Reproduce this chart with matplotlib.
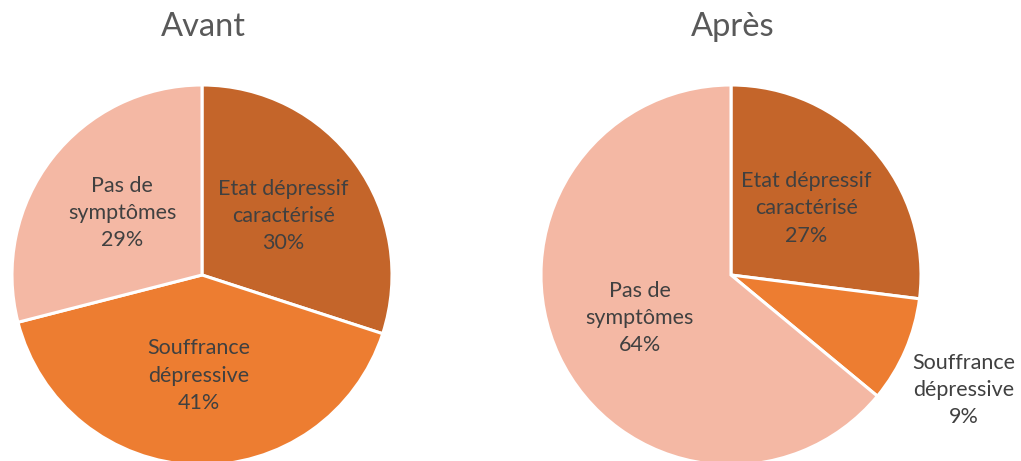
import matplotlib.pyplot as plt

plt.rcParams['font.family'] = ['Lato', 'DejaVu Sans']

categories = ['Etat dépressif\ncaractérisé', 'Souffrance\ndépressive', 'Pas de\nsymptômes']
avant = [30, 41, 29]
apres = [27, 9, 64]
titles = ['Avant', 'Après']
colors = ['#C4652A', '#ED7D31', '#F4B8A4']
text_color = '#404040'

fig = plt.figure(figsize=(10.21, 4.61), dpi=100)

def draw_pie(ax, values, outside=()):
    labels = [f"{c}\n{v}%" for c, v in zip(categories, values)]
    wedges, texts = ax.pie(values, colors=colors, labels=labels, startangle=90,
                           counterclock=False, labeldistance=0.53,
                           wedgeprops=dict(edgecolor='white', linewidth=2.2),
                           textprops=dict(color=text_color, fontsize=15.5,
                                          ha='center', va='center',
                                          linespacing=1.45))
    # small slices get their label outside the pie
    for i in outside:
        x, y = texts[i].get_position()
        k = 1.4 / 0.53
        texts[i].set_position((x * k - 0.06, y * k - 0.05))
    for t in texts:
        t.set_ha('center')
    ax.set_xlim(-1, 1)
    ax.set_ylim(-1, 1)
    ax.set_aspect('equal')

w = 380 / 1021
h = 380 / 461
bottom = (186 - 190) / 461

ax1 = fig.add_axes([12 / 1021, bottom, w, h])
draw_pie(ax1, avant)
ax2 = fig.add_axes([541 / 1021, bottom, w, h])
draw_pie(ax2, apres, outside=(1,))

fig.text(203 / 1021, 1 - 27 / 461, titles[0], ha='center', va='center',
         fontsize=23.5, color='#595959')
fig.text(733 / 1021, 1 - 27 / 461, titles[1], ha='center', va='center',
         fontsize=23.5, color='#595959')

plt.savefig('out.png', dpi=100)
